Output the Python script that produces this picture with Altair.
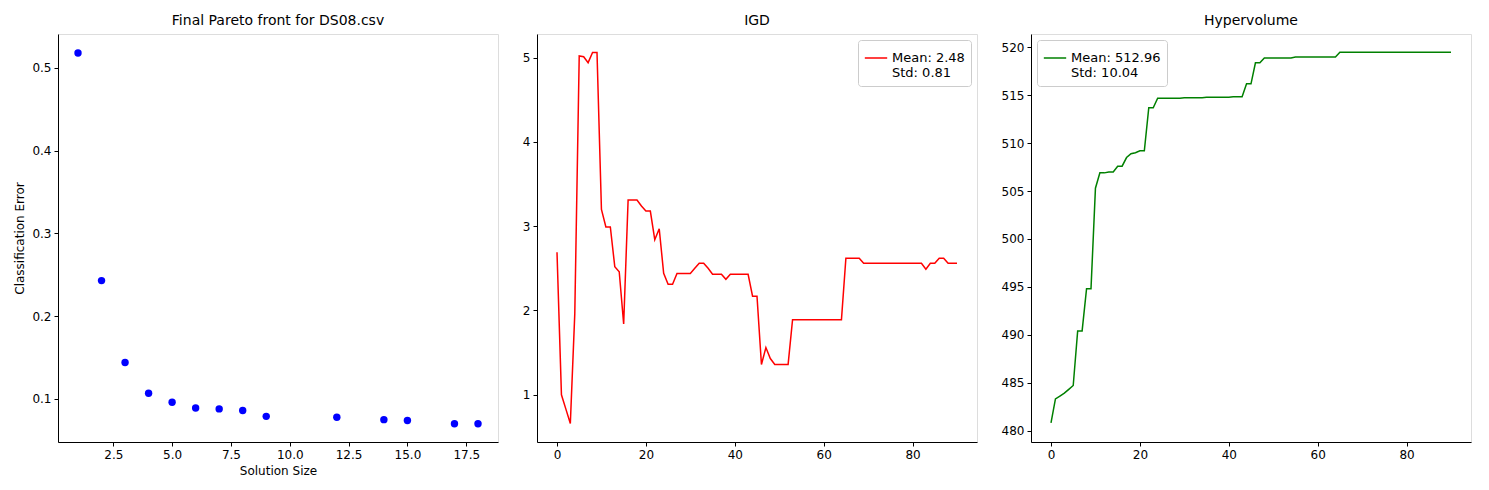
import altair as alt
import pandas as pd

# Final Pareto front
sol_size = [1, 2, 3, 4, 5, 6, 7, 8, 9, 12, 14, 15, 17, 18]
class_err = [0.518, 0.243, 0.144, 0.107, 0.096, 0.089, 0.088, 0.086, 0.079,
             0.078, 0.075, 0.074, 0.070, 0.070]

igd = [2.69, 1.00, 0.83, 0.66, 1.96, 5.02, 5.01, 4.94, 5.06, 5.06,
       3.20, 2.99, 2.99, 2.52, 2.46, 1.84, 3.31, 3.31, 3.31, 3.24,
       3.18, 3.18, 2.84, 2.97, 2.44, 2.31, 2.31, 2.44, 2.44, 2.44,
       2.44, 2.50, 2.56, 2.56, 2.50, 2.43, 2.43, 2.43, 2.37, 2.43,
       2.43, 2.43, 2.43, 2.43, 2.17, 2.17, 1.36, 1.56, 1.43, 1.36,
       1.36, 1.36, 1.36, 1.89, 1.89, 1.89, 1.89, 1.89, 1.89, 1.89,
       1.89, 1.89, 1.89, 1.89, 1.89, 2.62, 2.62, 2.62, 2.62, 2.56,
       2.56, 2.56, 2.56, 2.56, 2.56, 2.56, 2.56, 2.56, 2.56, 2.56,
       2.56, 2.56, 2.56, 2.49, 2.56, 2.56, 2.62, 2.62, 2.56, 2.56,
       2.56]

hv = [480.8, 483.3, 483.6, 483.9, 484.3, 484.7, 490.4, 490.4, 494.8, 494.8,
      505.3, 506.9, 506.9, 507.0, 507.0, 507.6, 507.6, 508.5, 508.9, 509.0,
      509.2, 509.2, 513.7, 513.7, 514.7, 514.7, 514.7, 514.7, 514.7, 514.7,
      514.75, 514.75, 514.75, 514.75, 514.75, 514.8, 514.8, 514.8, 514.8, 514.8,
      514.8, 514.85, 514.85, 514.85, 516.2, 516.2, 518.4, 518.4, 518.9, 518.9,
      518.9, 518.9, 518.9, 518.9, 518.9, 519.0, 519.0, 519.0, 519.0, 519.0,
      519.0, 519.0, 519.0, 519.0, 519.0, 519.5, 519.5, 519.5, 519.5, 519.5,
      519.5, 519.5, 519.5, 519.5, 519.5, 519.5, 519.5, 519.5, 519.5, 519.5,
      519.5, 519.5, 519.5, 519.5, 519.5, 519.5, 519.5, 519.5, 519.5, 519.5,
      519.5]

W, H = 440, 408
FONT = "DejaVu Sans"

pareto_df = pd.DataFrame({"size": sol_size, "err": class_err})
igd_df = pd.DataFrame({"gen": list(range(len(igd))), "val": igd, "s": "Mean: 2.48|Std: 0.81"})
hv_df = pd.DataFrame({"gen": list(range(len(hv))), "val": hv, "s": "Mean: 512.96|Std: 10.04"})

def ax(title=None, values=None, fmt=None):
    kw = dict(grid=False, domainColor="black", tickColor="black", labelColor="black",
              labelFontSize=12, titleFontSize=12, titleFontWeight="normal",
              titleColor="black", labelFont=FONT, titleFont=FONT, tickSize=4,
              labelPadding=3, titlePadding=5)
    if values is not None:
        kw["values"] = values
    if fmt:
        kw["format"] = fmt
    kw["title"] = title if title else None
    return alt.Axis(**kw)

def title(t):
    return alt.TitleParams(t, font=FONT, fontSize=14, fontWeight="normal", color="black", offset=6)

p1 = alt.Chart(pareto_df, title=title("Final Pareto front for DS08.csv")).mark_circle(
    size=55, color="blue", opacity=1).encode(
    x=alt.X("size:Q", scale=alt.Scale(domain=[0.15, 18.85], nice=False, zero=False),
            axis=ax("Solution Size", [2.5, 5.0, 7.5, 10.0, 12.5, 15.0, 17.5], ".1f")),
    y=alt.Y("err:Q", scale=alt.Scale(domain=[0.048, 0.541], nice=False, zero=False),
            axis=ax("Classification Error", [0.1, 0.2, 0.3, 0.4, 0.5], ".1f")),
).properties(width=W, height=H)

def legend(orient):
    return alt.Legend(title=None, orient=orient, labelExpr="split(datum.label, '|')",
                      labelFont=FONT, labelFontSize=13, labelColor="black",
                      symbolType="stroke", symbolSize=500, symbolStrokeWidth=1.5,
                      strokeColor="#cccccc", fillColor="white", padding=6,
                      cornerRadius=3, offset=6)

p2 = alt.Chart(igd_df, title=title("IGD")).mark_line(strokeWidth=1.5).encode(
    x=alt.X("gen:Q", scale=alt.Scale(domain=[-4.5, 94.5], nice=False),
            axis=ax(None, [0, 20, 40, 60, 80])),
    y=alt.Y("val:Q", scale=alt.Scale(domain=[0.44, 5.28], nice=False, zero=False),
            axis=ax(None, [1, 2, 3, 4, 5])),
    color=alt.Color("s:N", scale=alt.Scale(range=["red"]), legend=legend("top-right")),
).properties(width=W, height=H)

p3 = alt.Chart(hv_df, title=title("Hypervolume")).mark_line(strokeWidth=1.5).encode(
    x=alt.X("gen:Q", scale=alt.Scale(domain=[-4.5, 94.5], nice=False),
            axis=ax(None, [0, 20, 40, 60, 80])),
    y=alt.Y("val:Q", scale=alt.Scale(domain=[478.8, 521.4], nice=False, zero=False),
            axis=ax(None, [480, 485, 490, 495, 500, 505, 510, 515, 520])),
    color=alt.Color("s:N", scale=alt.Scale(range=["green"]), legend=legend("top-left")),
).properties(width=W, height=H)

chart = alt.hconcat(p1, p2, p3, spacing=22).resolve_scale(color="independent").configure_view(
    stroke="black", strokeWidth=1).configure(background="white")

chart.save("out.html", embed_options={"renderer": "svg", "actions": False})
